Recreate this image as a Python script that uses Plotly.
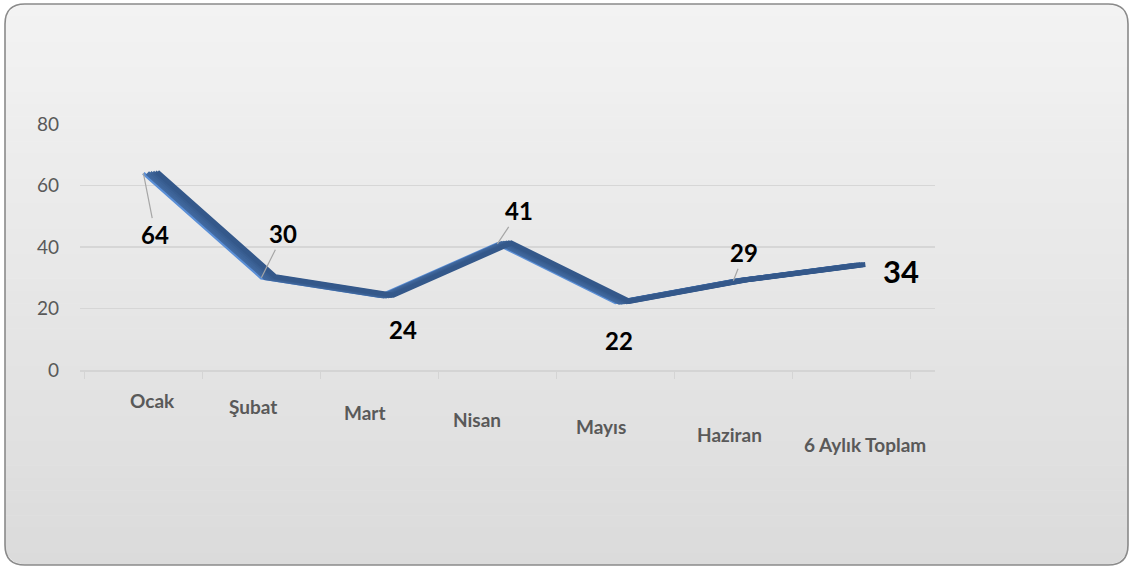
import numpy as np
import plotly.graph_objects as go

# ---------------- data ----------------
categories = ["Ocak", "Şubat", "Mart", "Nisan", "Mayıs", "Haziran", "6 Aylık Toplam"]
values = [64, 30, 24, 41, 22, 29, 34]
y_ticks = [0, 20, 40, 60, 80]

# ---------------- style / layout constants ----------------
W, H = 1132, 567
ML, MR, MT, MB = 80, 197, 124, 197
PW, PH = W - ML - MR, H - MT - MB
XR = [-0.537, 6.709]
YR = [0, 80]
PX_X = PW / (XR[1] - XR[0])
PX_Y = PH / (YR[1] - YR[0])
FONT = "Lato"

# label offsets (pixels) relative to points
label_ax = [12, 22, 24, 22, 4, 11, 50]
label_ay = [61, -44, 33, -33, 38, -28, 6]
label_size = [24, 24, 24, 24, 24, 24, 31]
label_leader = [True, True, False, True, False, True, False]
# category label shifts (3D-like stagger)
cat_xshift = [9, -8, -14, -20, -14, -4, 14]
cat_yshift = [-30, -36, -42, -49, -56, -64, -74]


def px2paper(px, py):
    return (px - ML) / PW, (H - MB - py) / PH


fig = go.Figure()

# ribbon made of shifted copies of the same series (3D-like extrusion)
ribbon = [  # (axis suffix, dx px, dy px up, color, width)
    ("6", 14, 1.0, "#34588a", 5),
    ("5", 11.5, 0.8, "#385d90", 5),
    ("4", 9, 0.6, "#3c6296", 5),
    ("3", 6.5, 0.4, "#3f669b", 5),
    ("2", 4, 0.2, "#4169a0", 5),
    ("", 0, 0, "#5b8fd6", 3.5),
]
for suf, dx, dy, col, wd in ribbon:
    fig.add_trace(go.Scatter(
        x=categories, y=values, mode="lines",
        line=dict(color=col, width=wd, shape="linear"),
        xaxis="x" + suf, yaxis="y" + suf, hoverinfo="skip", showlegend=False,
    ))
    if suf:
        fig.layout["xaxis" + suf] = dict(
            overlaying="x", type="category", categoryorder="array",
            categoryarray=categories,
            range=[XR[0] - dx / PX_X, XR[1] - dx / PX_X], visible=False)
        fig.layout["yaxis" + suf] = dict(
            overlaying="y", range=[YR[0] - dy / PX_Y, YR[1] - dy / PX_Y],
            visible=False)

# data labels
for c, v, ax, ay, fs, ld in zip(categories, values, label_ax, label_ay,
                                 label_size, label_leader):
    fig.add_annotation(
        x=c, y=v, xref="x", yref="y", text=f"<b>{v}</b>",
        showarrow=True, arrowhead=0, arrowwidth=1.2,
        arrowcolor="#a6a6a6" if ld else "rgba(0,0,0,0)",
        ax=ax, ay=ay, standoff=0, startstandoff=0,
        font=dict(family=FONT, size=fs, color="#000000"),
    )

# category labels
for c, xs, ys in zip(categories, cat_xshift, cat_yshift):
    fig.add_annotation(
        x=c, y=0, xref="x", yref="y", text=f"<b>{c}</b>", showarrow=False,
        xshift=xs, yshift=ys, xanchor="center", yanchor="middle",
        font=dict(family=FONT, size=19, color="#595959"),
    )

# background: rounded rectangle with vertical gradient (bands)
L, T, R, B, RAD = 5, 4, 1128, 565, 20


def xl(y):
    if y < T + RAD:
        d = T + RAD - y
        return L + RAD - np.sqrt(max(RAD ** 2 - d ** 2, 0))
    if y > B - RAD:
        d = y - (B - RAD)
        return L + RAD - np.sqrt(max(RAD ** 2 - d ** 2, 0))
    return L


def xr(y):
    return L + R - xl(y)


shapes = []
nb = 45
edges = np.linspace(T, B, nb + 1)
c0, c1 = 243, 219
for i in range(nb):
    ya, yb = edges[i], min(edges[i + 1] + 0.6, B)
    ys = np.linspace(ya, yb, 5)
    pts = [px2paper(xl(y), y) for y in ys] + [px2paper(xr(y), y) for y in ys[::-1]]
    path = "M " + " L ".join(f"{a:.5f},{b:.5f}" for a, b in pts) + " Z"
    g = int(round(c0 + (c1 - c0) * (i + 0.5) / nb))
    shapes.append(dict(type="path", xref="paper", yref="paper", path=path,
                       fillcolor=f"rgb({g},{g},{g})", line=dict(width=0),
                       layer="below"))


def P(px, py):
    a, b = px2paper(px, py)
    return f"{a:.5f},{b:.5f}"


border = (f"M {P(L + RAD, T)} L {P(R - RAD, T)} Q {P(R, T)} {P(R, T + RAD)} "
          f"L {P(R, B - RAD)} Q {P(R, B)} {P(R - RAD, B)} "
          f"L {P(L + RAD, B)} Q {P(L, B)} {P(L, B - RAD)} "
          f"L {P(L, T + RAD)} Q {P(L, T)} {P(L + RAD, T)} Z")
shapes.append(dict(type="path", xref="paper", yref="paper", path=border,
                   line=dict(color="#8a8a8a", width=1.6), layer="below"))

fig.update_layout(
    width=W, height=H, autosize=False,
    margin=dict(l=ML, r=MR, t=MT, b=MB, pad=0),
    paper_bgcolor="white", plot_bgcolor="rgba(0,0,0,0)",
    showlegend=False, shapes=shapes,
    xaxis=dict(type="category", categoryorder="array", categoryarray=categories,
               range=XR, showgrid=False, zeroline=False, showticklabels=False,
               showline=True, linecolor="#d4d4d4", linewidth=1.5,
               ticks="outside", tickson="boundaries", ticklen=7,
               tickcolor="#d4d4d4", tickwidth=1.5),
    yaxis=dict(range=YR, tickvals=y_ticks, showgrid=True, gridcolor="#d6d6d6",
               gridwidth=1.5, zeroline=False, showline=False,
               ticks="", ticklabelstandoff=20,
               tickfont=dict(family=FONT, size=19, color="#595959")),
)

fig.write_html("out.html",
               config={"displayModeBar": False, "staticPlot": True},
               post_script="document.body.style.margin='0px';"
                           "document.body.style.overflow='hidden';")
